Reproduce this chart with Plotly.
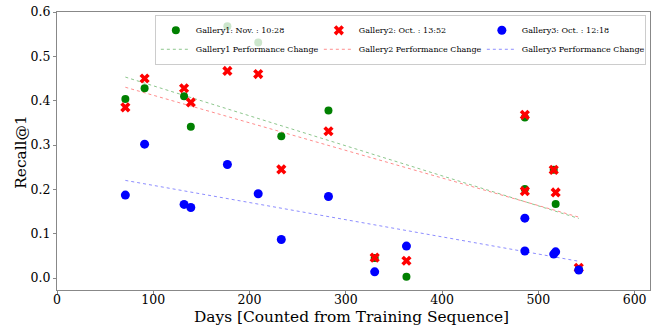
import numpy as np
import plotly.graph_objects as go

days = [71, 91, 132, 139, 177, 209, 233, 282, 330, 363, 486, 486, 516, 518, 542]
gallery1 = [0.404, 0.428, 0.410, 0.341, 0.568, 0.531, 0.320, 0.378, 0.045, 0.003,
            0.362, 0.201, 0.244, 0.167, 0.020]
gallery2 = [0.385, 0.450, 0.428, 0.396, 0.467, 0.460, 0.245, 0.331, 0.046, 0.039,
            0.368, 0.196, 0.244, 0.193, 0.023]
gallery3 = [0.187, 0.302, 0.166, 0.159, 0.256, 0.190, 0.087, 0.184, 0.014, 0.072,
            0.135, 0.061, 0.054, 0.059, 0.018]

names = ["Gallery1: Nov. : 10:28", "Gallery2: Oct. : 13:52", "Gallery3: Oct. : 12:18"]
fit_names = ["Gallery1 Performance Change", "Gallery2 Performance Change",
             "Gallery3 Performance Change"]
x_ticks = [0, 100, 200, 300, 400, 500, 600]
y_ticks = [0.0, 0.1, 0.2, 0.3, 0.4, 0.5, 0.6]
x_title = "Days [Counted from Training Sequence]"
y_title = "Recall@1"

colors = ["green", "red", "blue"]
line_colors = ["rgba(0,128,0,0.45)", "rgba(255,0,0,0.45)", "rgba(0,0,255,0.45)"]
symbols = ["circle", "x", "circle"]
sizes = [8, 9, 9]

FONT = "DejaVu Serif"
fig = go.Figure()

series = [gallery1, gallery2, gallery3]
x = np.array(days, dtype=float)
for i, ys in enumerate(series):
    coef = np.polyfit(x, np.array(ys), 1)
    xl = np.array([min(days), max(days)])
    fig.add_trace(go.Scatter(
        x=xl, y=np.polyval(coef, xl), mode="lines", name=fit_names[i],
        line=dict(color=line_colors[i], width=1, dash="dot"),
        legendrank=4 + i,
    ))
for i, ys in enumerate(series):
    fig.add_trace(go.Scatter(
        x=days, y=ys, mode="markers", name=names[i],
        marker=dict(color=colors[i], symbol=symbols[i], size=sizes[i],
                    line=dict(width=0)),
        legendrank=1 + i,
    ))

axis_common = dict(
    showgrid=False, zeroline=False, showline=True, linecolor="#888888",
    linewidth=1, mirror=True, ticks="outside", ticklen=3, tickcolor="#888888",
    tickfont=dict(family=FONT, size=12.5, color="black"), automargin=False,
)
fig.update_xaxes(range=[0, 616], tickvals=x_ticks, ticktext=[str(t) for t in x_ticks],
                 ticklabelstandoff=-5, **axis_common)
fig.update_yaxes(range=[-0.027, 0.6], tickvals=y_ticks,
                 ticktext=[f"{t:.1f}" for t in y_ticks], **axis_common)

fig.add_annotation(text=x_title, xref="paper", yref="paper", x=0.497, y=-0.097,
                   xanchor="center", yanchor="middle", showarrow=False,
                   font=dict(family=FONT, size=15.4, color="black"))
fig.add_annotation(text=y_title, xref="paper", yref="paper", x=-0.062, y=0.498,
                   xanchor="center", yanchor="middle", showarrow=False, textangle=-90,
                   font=dict(family=FONT, size=15.4, color="black"))

fig.update_layout(
    width=667, height=327,
    margin=dict(l=57, r=17, t=12, b=37),
    plot_bgcolor="white", paper_bgcolor="white",
    font=dict(family=FONT, color="black"),
    legend=dict(
        orientation="h", x=0.993, y=0.99, xanchor="right", yanchor="top",
        bgcolor="rgba(255,255,255,0.8)", bordercolor="#cccccc", borderwidth=1,
        font=dict(family=FONT, size=8, color="black"),
        entrywidth=118, entrywidthmode="pixels", itemwidth=30,
        tracegroupgap=0, traceorder="normal",
    ),
)

fig.write_html("out.html")
